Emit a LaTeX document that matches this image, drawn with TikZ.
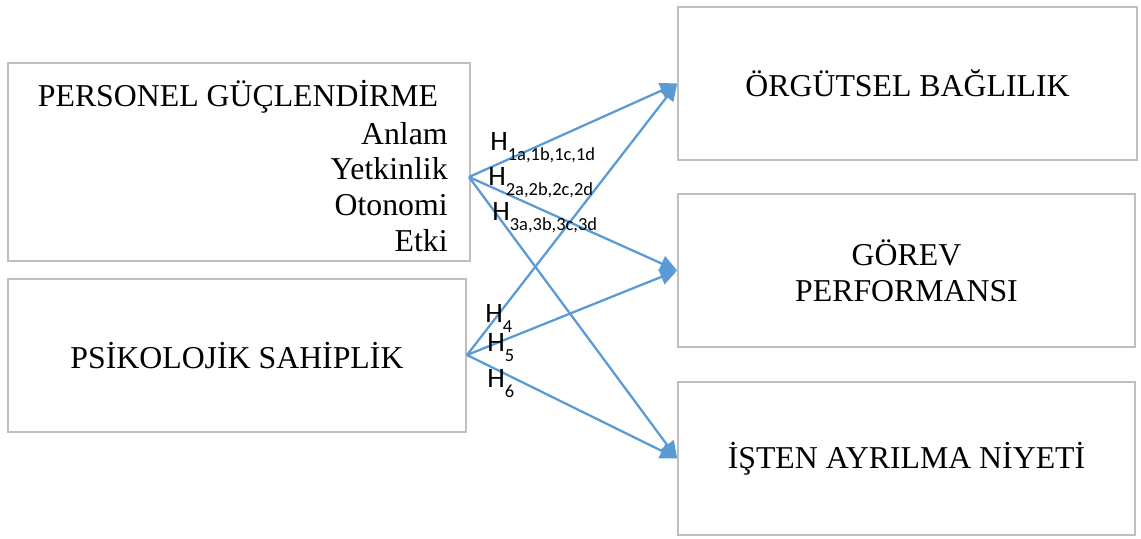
\documentclass[tikz,border=0pt]{standalone}
\usepackage{fontspec}
\setmainfont{Liberation Serif}
\newfontfamily\calibri{Carlito}
\usetikzlibrary{arrows.meta,positioning,calc}
\definecolor{linkblue}{HTML}{5B9BD5}
\definecolor{framegray}{HTML}{BFBFBF}
\newcommand{\hyp}[1]{H\raisebox{-0.2cm}{\fontsize{10.5}{12}\selectfont #1}}

\begin{document}
\begin{tikzpicture}[
    x=0.02cm, y=-0.02cm,
    varbox/.style={draw=framegray, line width=1pt, inner sep=0pt, align=center, font=\fontsize{18.1}{20.4}\selectfont},
    hlabel/.style={anchor=base west, inner sep=0pt, font=\calibri\fontsize{16}{18}\selectfont},
    link/.style={-{Triangle[length=0.34cm, width=0.32cm]}, line width=1.3pt, color=linkblue}
]
\useasboundingbox (0,0) rectangle (1141,538);

% independent variables
\node[varbox, minimum width=9.24cm, minimum height=3.96cm] (pg) at (239,162) {};
\node[font=\fontsize{18.1}{20.4}\selectfont, inner sep=0pt] (pgtitle) at (238,97) {PERSONEL GÜÇLENDİRME};
\node[font=\fontsize{18.1}{20.4}\selectfont, align=right, anchor=east, inner sep=0pt] (pglist) at (448,187) {Anlam\\Yetkinlik\\Otonomi\\Etki};

\node[varbox, minimum width=9.16cm, minimum height=3.06cm] (ps) at (237,355.5) {PSİKOLOJİK SAHİPLİK};

% dependent variables
\node[varbox, minimum width=9.18cm, minimum height=3.06cm] (ob) at (907.5,83.5) {ÖRGÜTSEL BAĞLILIK};
\node[varbox, minimum width=9.14cm, minimum height=3.06cm] (gp) at (906.5,270.5) {GÖREV\\PERFORMANSI};
\node[varbox, minimum width=9.14cm, minimum height=3.06cm] (ian) at (906.5,458.5) {İŞTEN AYRILMA NİYETİ};

\coordinate (pgout) at (469,177);
\coordinate (psout) at (467,355);

\draw[link] (pgout) -- (ob.west);
\draw[link] (pgout) -- (gp.west);
\draw[link] (pgout) -- (ian.west);

\draw[link] (psout) -- (ob.west);
\draw[link] (psout) -- (gp.west);
\draw[link] (psout) -- (ian.west);

\node[hlabel] (h1) at (490,150) {\hyp{1a,1b,1c,1d}};
\node[hlabel] (h2) at (488,185) {\hyp{2a,2b,2c,2d}};
\node[hlabel] (h3) at (492,220) {\hyp{3a,3b,3c,3d}};
\node[hlabel] (h4) at (485,322) {\hyp{4}};
\node[hlabel] (h5) at (487,351) {\hyp{5}};
\node[hlabel] (h6) at (487,387) {\hyp{6}};

\end{tikzpicture}
\end{document}
